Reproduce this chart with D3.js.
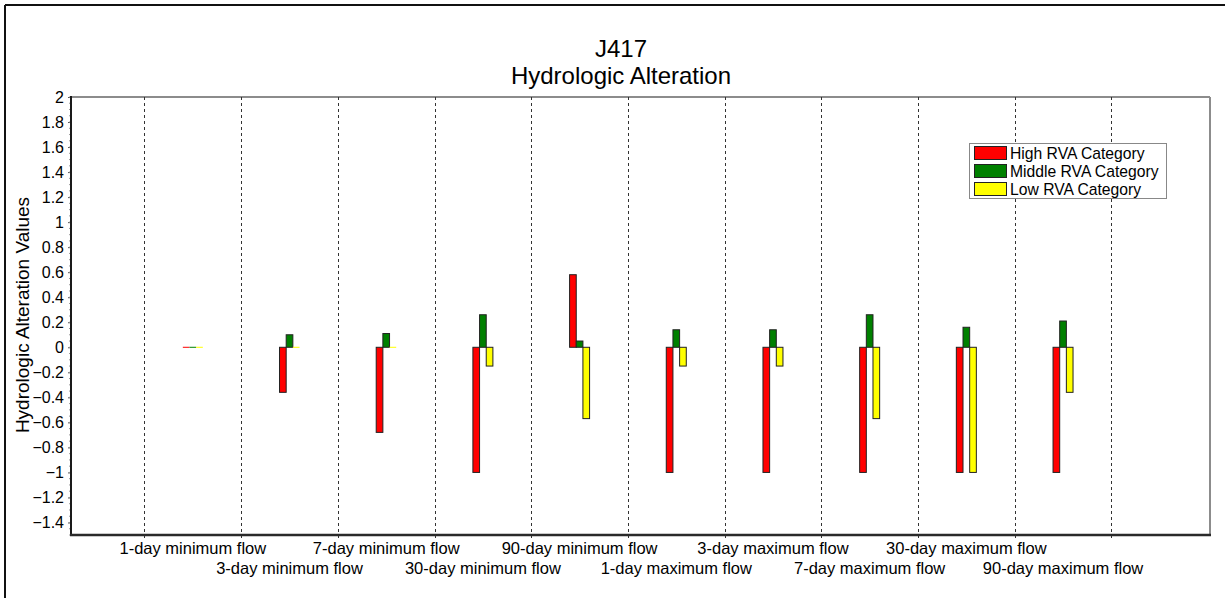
<!DOCTYPE html>
<html>
<head>
<meta charset="utf-8">
<script src="https://cdn.jsdelivr.net/npm/d3@7"></script>
<style>
  html, body { margin: 0; padding: 0; background: #fff; }
  svg { display: block; font-family: "Liberation Sans", Arial, sans-serif; }
</style>
</head>
<body>
<svg id="chart" width="1225" height="598"></svg>
<script>
// Hydrologic alteration per flow statistic, by RVA category
const categories = [
  "1-day minimum flow", "3-day minimum flow", "7-day minimum flow",
  "30-day minimum flow", "90-day minimum flow", "1-day maximum flow",
  "3-day maximum flow", "7-day maximum flow", "30-day maximum flow",
  "90-day maximum flow"
];
const highRVA   = [0, -0.36, -0.68, -1, 0.58, -1, -1, -1, -1, -1];
const middleRVA = [0, 0.10, 0.11, 0.26, 0.05, 0.14, 0.14, 0.26, 0.16, 0.21];
const lowRVA    = [0, 0, 0, -0.15, -0.57, -0.15, -0.15, -0.57, -1, -0.36];
const seriesNames = ["High RVA Category", "Middle RVA Category", "Low RVA Category"];
const seriesColors = ["#ff0000", "#008000", "#ffff00"];
const yTicks = [2, 1.8, 1.6, 1.4, 1.2, 1, 0.8, 0.6, 0.4, 0.2, 0, -0.2, -0.4, -0.6, -0.8, -1, -1.2, -1.4];

const seriesValues = [highRVA, middleRVA, lowRVA];

const svg = d3.select("#chart");
const plot = { left: 71, right: 1210, top: 97, bottom: 535 };

// Outer frame (top and left edges)
svg.append("line").attr("x1", 5).attr("x2", 1225).attr("y1", 5).attr("y2", 5)
  .attr("stroke", "#111").attr("stroke-width", 2);
svg.append("line").attr("x1", 5).attr("x2", 5).attr("y1", 5).attr("y2", 598)
  .attr("stroke", "#111").attr("stroke-width", 2);

// Scales: x in category units (category i occupies [i, i+1])
const x = d3.scaleLinear().domain([-0.76, 11.02]).range([plot.left, plot.right]);
const y = d3.scaleLinear().domain([-1.5, 2]).range([plot.bottom, plot.top]);

// Title
svg.append("text").attr("x", 621).attr("y", 57).attr("text-anchor", "middle")
  .attr("font-size", 24).attr("fill", "#000").text("J417");
svg.append("text").attr("x", 621).attr("y", 84).attr("text-anchor", "middle")
  .attr("font-size", 24).attr("fill", "#000").text("Hydrologic Alteration");

// Plot frame: top & right grey
svg.append("line").attr("x1", plot.left).attr("x2", plot.right).attr("y1", plot.top).attr("y2", plot.top)
  .attr("stroke", "#8c8c8c").attr("stroke-width", 2);
svg.append("line").attr("x1", plot.right).attr("x2", plot.right).attr("y1", plot.top).attr("y2", plot.bottom)
  .attr("stroke", "#8c8c8c").attr("stroke-width", 2);

// Vertical dashed gridlines at category boundaries
const gridIdx = d3.range(0, 11);
svg.append("g").selectAll("line").data(gridIdx).join("line")
  .attr("x1", d => Math.round(x(d)) + 0.5).attr("x2", d => Math.round(x(d)) + 0.5)
  .attr("y1", plot.top).attr("y2", plot.bottom + 4)
  .attr("stroke", "#333").attr("stroke-width", 1).attr("stroke-dasharray", "3,3");

// Bars
const groupW = 20;
const sub = d3.scaleBand().domain(d3.range(3)).range([-groupW / 2, groupW / 2]);
const barData = [];
categories.forEach((c, i) => {
  seriesValues.forEach((vals, s) => barData.push({ i, s, v: vals[i] }));
});
const bars = svg.append("g");
bars.selectAll("rect").data(barData).join("rect")
  .attr("x", d => x(d.i + 0.5) + sub(d.s))
  .attr("width", sub.bandwidth())
  .attr("y", d => d.v === 0 ? y(0) - 0.5 : Math.min(y(d.v), y(0)))
  .attr("height", d => d.v === 0 ? 1 : Math.abs(y(d.v) - y(0)))
  .attr("fill", d => seriesColors[d.s])
  .attr("stroke", d => d.v === 0 ? "none" : "#222")
  .attr("stroke-width", 1);

// Y axis
const yAxis = d3.axisLeft(y).tickValues(yTicks).tickSize(3).tickPadding(4)
  .tickFormat(d => d3.format("~g")(d));
const yg = svg.append("g").attr("transform", `translate(${plot.left},0)`).call(yAxis);
yg.select(".domain").remove();
yg.selectAll("text").attr("font-size", 16).attr("fill", "#000").attr("font-family", "Liberation Sans, Arial, sans-serif");
yg.selectAll("line").attr("stroke", "#555");
// minor ticks
svg.append("g").selectAll("line").data(d3.range(-1.5, 2.001, 0.05)).join("line")
  .attr("x1", plot.left - 2).attr("x2", plot.left)
  .attr("y1", d => y(d)).attr("y2", d => y(d))
  .attr("stroke", "#999").attr("stroke-width", 1);
svg.append("line").attr("x1", plot.left).attr("x2", plot.left).attr("y1", plot.top - 1).attr("y2", plot.bottom + 1)
  .attr("stroke", "#1a1a1a").attr("stroke-width", 2);

// X axis
const xg = svg.append("g").attr("transform", `translate(0,${plot.bottom})`)
  .call(d3.axisBottom(x).tickValues(gridIdx).tickSize(0).tickFormat(""));
xg.select(".domain").remove();
svg.append("line").attr("x1", plot.left - 1).attr("x2", plot.right + 1).attr("y1", plot.bottom).attr("y2", plot.bottom)
  .attr("stroke", "#2a2a2a").attr("stroke-width", 2.5);

// Category labels on two staggered rows
svg.append("g").selectAll("text").data(categories).join("text")
  .attr("x", (d, i) => x(i + 0.5))
  .attr("y", (d, i) => i % 2 === 0 ? 554 : 574)
  .attr("text-anchor", "middle").attr("font-size", 16.5).attr("fill", "#000")
  .text(d => d);

// Y axis title
svg.append("text")
  .attr("transform", "translate(29,315) rotate(-90)")
  .attr("text-anchor", "middle").attr("font-size", 19).attr("fill", "#000")
  .text("Hydrologic Alteration Values");

// Legend
const lg = svg.append("g").attr("transform", "translate(969,143)");
lg.append("rect").attr("x", 0.5).attr("y", 0.5).attr("width", 197).attr("height", 55)
  .attr("fill", "#fff").attr("stroke", "#888").attr("stroke-width", 1);
seriesNames.forEach((n, k) => {
  lg.append("rect").attr("x", 5.5).attr("y", 3.5 + k * 18).attr("width", 32).attr("height", 13)
    .attr("fill", seriesColors[k]).attr("stroke", "#222").attr("stroke-width", 1);
  lg.append("text").attr("x", 41).attr("y", 15.5 + k * 18).attr("font-size", 15.7).attr("fill", "#000").text(n);
});
</script>
</body>
</html>
